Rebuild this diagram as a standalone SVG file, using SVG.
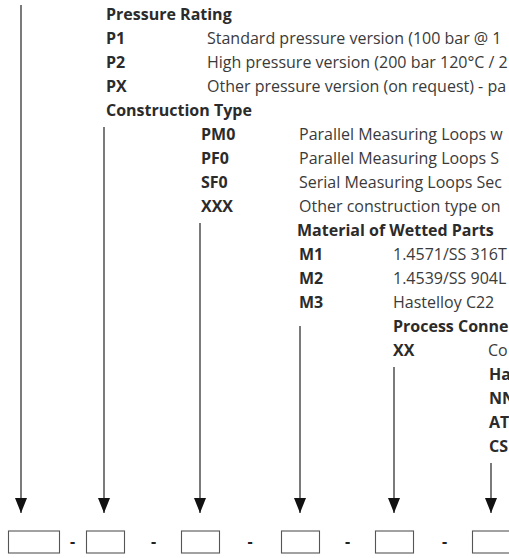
<svg xmlns="http://www.w3.org/2000/svg" width="509" height="558" viewBox="0 0 509 558">
<style>
text{font-family:"Open Sans","Noto Sans","Liberation Sans",sans-serif;font-size:16px;fill:#3a3a3a}
.b{font-weight:bold;fill:#2b2b2b}
.ln{stroke:#222;stroke-width:1.2;fill:none}
.box{fill:#fff;stroke:#555;stroke-width:1.1}
.dash{font-weight:bold;fill:#222;text-anchor:middle}
</style>
<defs>
<marker id="ah" markerUnits="userSpaceOnUse" markerWidth="15" markerHeight="12" viewBox="0 0 15 12" refX="15" refY="6" orient="auto">
<path d="M0,0 L15,6 L0,12 z" fill="#111"/>
</marker>
</defs>
<g id="pressure-rating">
<text class="b" x="106" y="19.5">Pressure Rating</text>
<text class="b" x="106" y="43.5">P1</text><text x="207" y="43.5">Standard pressure version (100 bar @ 1</text>
<text class="b" x="106" y="67.5">P2</text><text x="207" y="67.5">High pressure version (200 bar 120°C / 2</text>
<text class="b" x="106" y="91.5">PX</text><text x="207" y="91.5">Other pressure version (on request) - pa</text>
</g>
<g id="construction-type">
<text class="b" x="106" y="115.5">Construction Type</text>
<text class="b" x="201" y="139.5">PM0</text><text x="299" y="139.5">Parallel Measuring Loops w</text>
<text class="b" x="201" y="163.5">PF0</text><text x="299" y="163.5">Parallel Measuring Loops S</text>
<text class="b" x="201" y="187.5">SF0</text><text x="299" y="187.5">Serial Measuring Loops Sec</text>
<text class="b" x="201" y="211.5">XXX</text><text x="299" y="211.5">Other construction type on</text>
</g>
<g id="material">
<text class="b" x="297" y="235.5">Material of Wetted Parts</text>
<text class="b" x="299" y="259.5">M1</text><text x="393" y="259.5">1.4571/SS 316T</text>
<text class="b" x="299" y="283.5">M2</text><text x="393" y="283.5">1.4539/SS 904L</text>
<text class="b" x="299" y="307.5">M3</text><text x="393" y="307.5">Hastelloy C22</text>
</g>
<g id="process-connection">
<text class="b" x="393" y="331.5">Process Conne</text>
<text class="b" x="393" y="355.5">XX</text><text x="488" y="355.5">Co</text>
</g>
<g id="level-6">
<text class="b" x="489" y="379.5">Ha</text>
<text class="b" x="489" y="403.5">NN</text>
<text class="b" x="489" y="427.5">AT</text>
<text class="b" x="489" y="451.5">CS</text>
</g>
<g id="connectors">
<line class="ln" x1="21" y1="5" x2="21" y2="513" marker-end="url(#ah)"/>
<line class="ln" x1="104" y1="127" x2="104" y2="513" marker-end="url(#ah)"/>
<line class="ln" x1="200" y1="223" x2="200" y2="513" marker-end="url(#ah)"/>
<line class="ln" x1="300" y1="326" x2="300" y2="513" marker-end="url(#ah)"/>
<line class="ln" x1="394" y1="367" x2="394" y2="513" marker-end="url(#ah)"/>
<line class="ln" x1="491" y1="463" x2="491" y2="513" marker-end="url(#ah)"/>
</g>
<g id="box-1"><rect class="box" x="8.5" y="531" width="51" height="22"/></g>
<text class="dash" x="72.5" y="547">-</text>
<g id="box-2"><rect class="box" x="86.5" y="531" width="38" height="22"/></g>
<text class="dash" x="153.5" y="547">-</text>
<g id="box-3"><rect class="box" x="181.5" y="531" width="38" height="22"/></g>
<text class="dash" x="250" y="547">-</text>
<g id="box-4"><rect class="box" x="281.5" y="531" width="38" height="22"/></g>
<text class="dash" x="347.5" y="547">-</text>
<g id="box-5"><rect class="box" x="375.5" y="531" width="38" height="22"/></g>
<text class="dash" x="444.5" y="547">-</text>
<g id="box-6"><rect class="box" x="472.5" y="531" width="38" height="22"/></g>
</svg>
